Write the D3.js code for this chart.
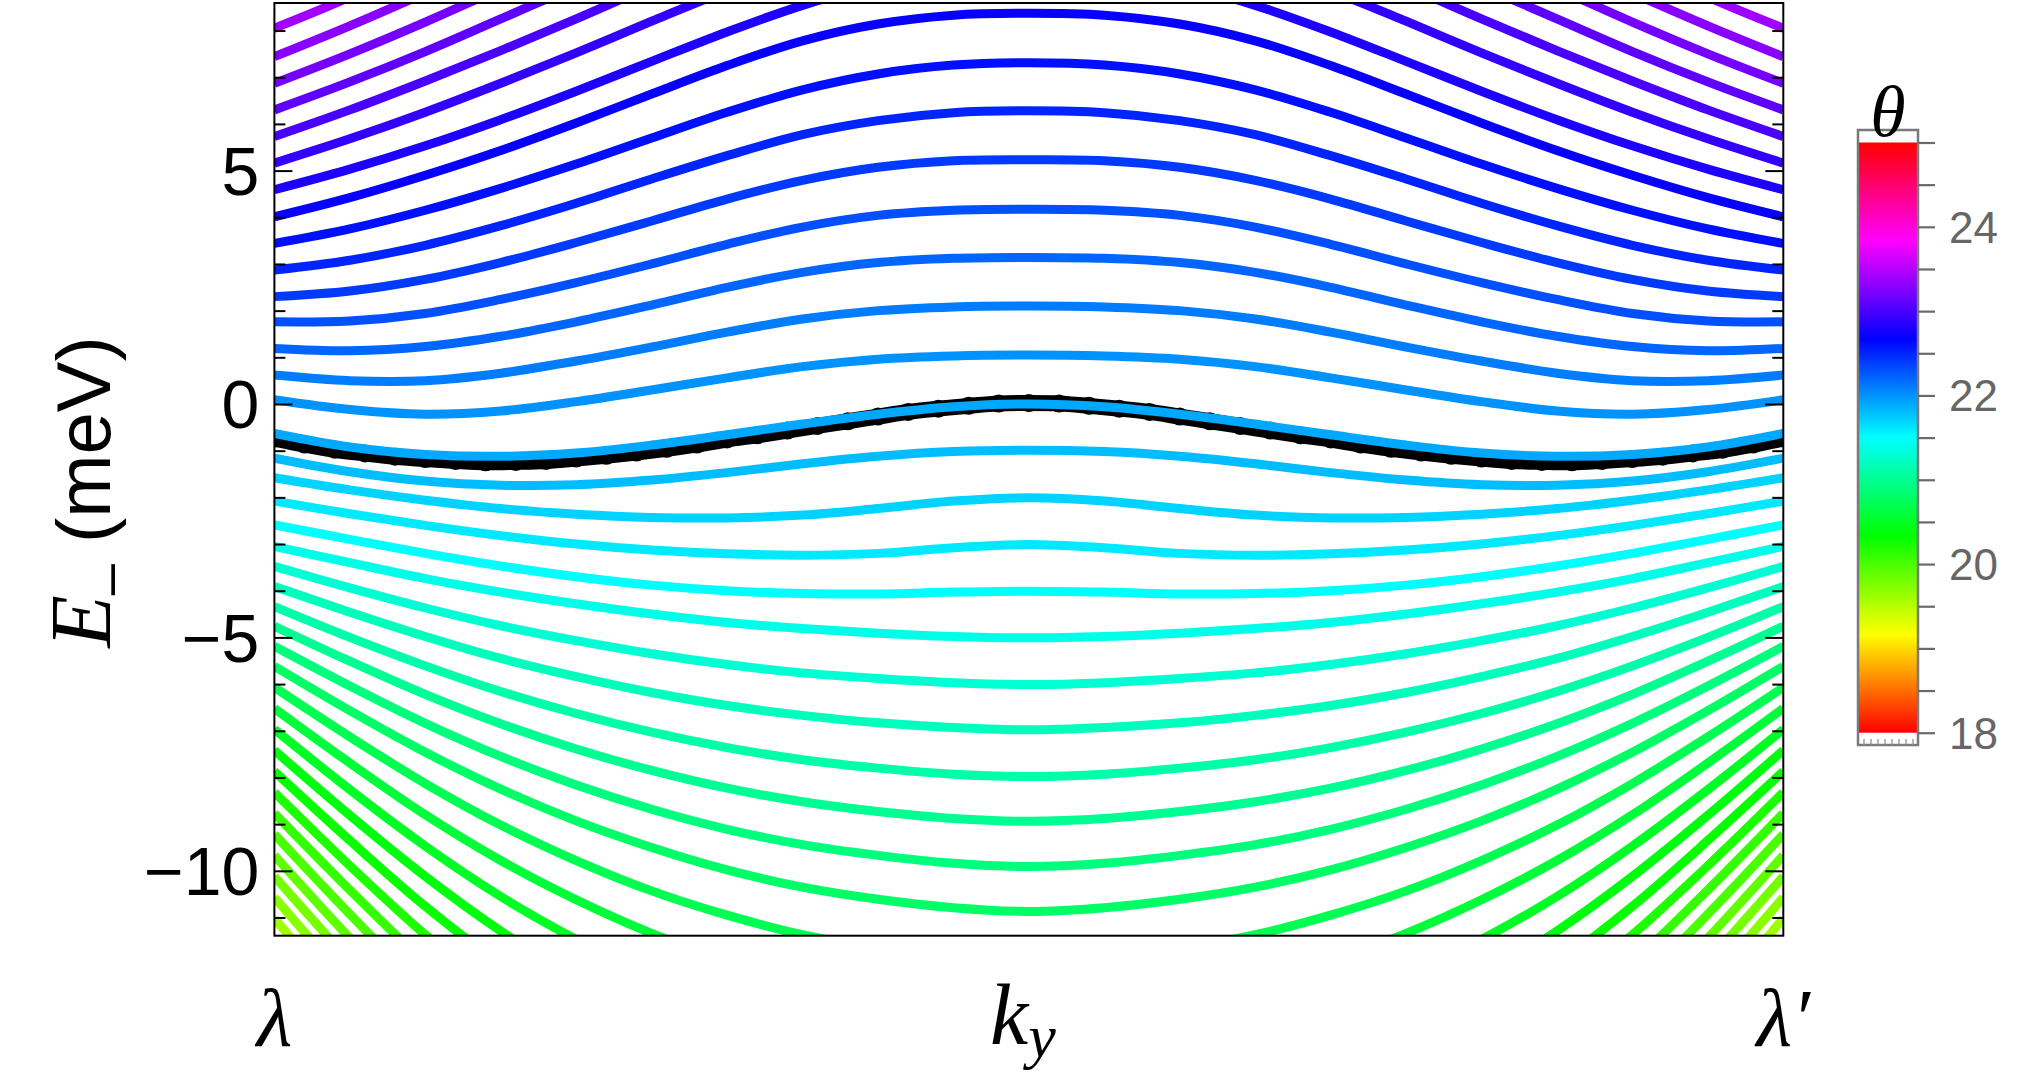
<!DOCTYPE html>
<html><head><meta charset="utf-8">
<script src="https://cdn.jsdelivr.net/npm/d3@7"></script>
<style>html,body{margin:0;padding:0;background:#fff;} svg{display:block;}</style>
</head><body>
<svg id="chart" width="2029" height="1087"></svg>
<script>
// ---------------- data ----------------
const tGrid = [0,0.05,0.1,0.15,0.2,0.25,0.3,0.35,0.4,0.45,0.5,0.55,0.6,0.65,0.7,0.75,0.8,0.85,0.9,0.95,1];

const thetaValues = [23.4,23.3,23.2,23.1,23.0,22.9,22.8,22.7,22.6,22.5,22.4,22.3,22.2,22.1,22.0,21.9,21.8,21.7,21.6,21.5,21.4,21.3,21.2,21.1,21.0,20.9,20.8,20.7,20.6,20.5,20.4,20.3,20.2,20.1,20.0,19.9,19.8,19.7,19.6];

const energyCurves = [
[8.05,8.72,9.5,10.3,11.1,11.9,12.7,13.5,14.3,15.0,15.3,15.0,14.3,13.5,12.7,11.9,11.1,10.3,9.5,8.72,8.05],
[7.44,8.1,8.8,9.5,10.3,11.1,11.9,12.7,13.4,13.9,14.1,13.9,13.4,12.7,11.9,11.1,10.3,9.5,8.8,8.1,7.44],
[6.87,7.5,8.18,8.9,9.6,10.3,11.0,11.6,12.1,12.4,12.5,12.4,12.1,11.6,11.0,10.3,9.6,8.9,8.18,7.5,6.87],
[6.30,6.9,7.55,8.25,8.95,9.65,10.3,10.9,11.4,11.7,11.8,11.7,11.4,10.9,10.3,9.65,8.95,8.25,7.55,6.9,6.30],
[5.73,6.3,6.92,7.57,8.25,8.95,9.6,10.2,10.65,10.95,11.05,10.95,10.65,10.2,9.6,8.95,8.25,7.57,6.92,6.3,5.73],
[5.16,5.68,6.25,6.87,7.52,8.2,8.85,9.4,9.8,10.05,10.12,10.05,9.8,9.4,8.85,8.2,7.52,6.87,6.25,5.68,5.16],
[4.59,5.03,5.53,6.09,6.7,7.34,7.97,8.54,8.98,9.25,9.34,9.25,8.98,8.54,7.97,7.34,6.7,6.09,5.53,5.03,4.59],
[4.01,4.42,4.9,5.43,6.02,6.64,7.25,7.78,8.14,8.33,8.37,8.33,8.14,7.78,7.25,6.64,6.02,5.43,4.9,4.42,4.01],
[3.44,3.75,4.15,4.62,5.14,5.7,6.25,6.73,7.07,7.26,7.31,7.26,7.07,6.73,6.25,5.7,5.14,4.62,4.15,3.75,3.44],
[2.87,3.08,3.4,3.82,4.3,4.82,5.32,5.77,6.07,6.24,6.28,6.24,6.07,5.77,5.32,4.82,4.3,3.82,3.4,3.08,2.87],
[2.30,2.42,2.67,3.03,3.46,3.92,4.39,4.79,5.07,5.21,5.23,5.21,5.07,4.79,4.39,3.92,3.46,3.03,2.67,2.42,2.30],
[1.76,1.78,1.94,2.24,2.6,3.0,3.42,3.79,4.04,4.15,4.17,4.15,4.04,3.79,3.42,3.0,2.6,2.24,1.94,1.78,1.76],
[1.19,1.14,1.23,1.45,1.76,2.12,2.5,2.82,3.03,3.12,3.14,3.12,3.03,2.82,2.5,2.12,1.76,1.45,1.23,1.14,1.19],
[0.62,0.5,0.5,0.66,0.92,1.22,1.54,1.82,2.0,2.08,2.10,2.08,2.0,1.82,1.54,1.22,0.92,0.66,0.5,0.5,0.62],
[0.09,-0.12,-0.22,-0.15,0.05,0.3,0.56,0.8,0.96,1.03,1.05,1.03,0.96,0.8,0.56,0.3,0.05,-0.15,-0.22,-0.12,0.09],
[-0.63,-0.92,-1.08,-1.12,-1.05,-0.88,-0.66,-0.43,-0.22,-0.06,0,-0.06,-0.22,-0.43,-0.66,-0.88,-1.05,-1.12,-1.08,-0.92,-0.63],
[-1.16,-1.45,-1.65,-1.74,-1.73,-1.63,-1.47,-1.28,-1.12,-1.02,-0.99,-1.02,-1.12,-1.28,-1.47,-1.63,-1.73,-1.74,-1.65,-1.45,-1.16],
[-1.58,-1.84,-2.06,-2.24,-2.36,-2.43,-2.44,-2.38,-2.24,-2.08,-2.01,-2.08,-2.24,-2.38,-2.44,-2.43,-2.36,-2.24,-2.06,-1.84,-1.58],
[-2.08,-2.35,-2.6,-2.82,-3.0,-3.13,-3.21,-3.24,-3.2,-3.08,-3.01,-3.08,-3.2,-3.24,-3.21,-3.13,-3.0,-2.82,-2.6,-2.35,-2.08],
[-2.59,-2.9,-3.2,-3.47,-3.7,-3.88,-4.0,-4.06,-4.07,-4.03,-4.01,-4.03,-4.07,-4.06,-4.0,-3.88,-3.7,-3.47,-3.2,-2.9,-2.59],
[-3.05,-3.4,-3.74,-4.03,-4.28,-4.5,-4.68,-4.81,-4.91,-4.98,-5.01,-4.98,-4.91,-4.81,-4.68,-4.5,-4.28,-4.03,-3.74,-3.4,-3.05],
[-3.48,-3.94,-4.37,-4.75,-5.07,-5.35,-5.58,-5.76,-5.88,-5.97,-6.01,-5.97,-5.88,-5.76,-5.58,-5.35,-5.07,-4.75,-4.37,-3.94,-3.48],
[-3.91,-4.46,-4.98,-5.45,-5.84,-6.18,-6.46,-6.67,-6.83,-6.93,-6.98,-6.93,-6.83,-6.67,-6.46,-6.18,-5.84,-5.45,-4.98,-4.46,-3.91],
[-4.34,-5.0,-5.61,-6.16,-6.63,-7.03,-7.36,-7.62,-7.8,-7.93,-7.98,-7.93,-7.8,-7.62,-7.36,-7.03,-6.63,-6.16,-5.61,-5.0,-4.34],
[-4.76,-5.51,-6.22,-6.85,-7.39,-7.85,-8.23,-8.52,-8.73,-8.88,-8.94,-8.88,-8.73,-8.52,-8.23,-7.85,-7.39,-6.85,-6.22,-5.51,-4.76],
[-5.19,-6.04,-6.84,-7.55,-8.16,-8.68,-9.11,-9.44,-9.67,-9.84,-9.91,-9.84,-9.67,-9.44,-9.11,-8.68,-8.16,-7.55,-6.84,-6.04,-5.19],
[-5.62,-6.57,-7.46,-8.25,-8.93,-9.5,-9.98,-10.35,-10.61,-10.79,-10.87,-10.79,-10.61,-10.35,-9.98,-9.5,-8.93,-8.25,-7.46,-6.57,-5.62],
[-6.07,-7.13,-8.13,-9.02,-9.78,-10.43,-10.95,-11.37,-11.66,-11.86,-11.95,-11.86,-11.66,-11.37,-10.95,-10.43,-9.78,-9.02,-8.13,-7.13,-6.07],
[-6.52,-7.69,-8.8,-9.78,-10.62,-11.34,-11.93,-12.39,-12.71,-12.93,-13.03,-12.93,-12.71,-12.39,-11.93,-11.34,-10.62,-9.78,-8.8,-7.69,-6.52],
[-6.97,-8.26,-9.47,-10.55,-11.47,-12.26,-12.9,-13.4,-13.76,-14.0,-14.11,-14.0,-13.76,-13.4,-12.9,-12.26,-11.47,-10.55,-9.47,-8.26,-6.97],
[-7.42,-8.81,-10.12,-11.29,-12.29,-13.14,-13.83,-14.37,-14.76,-15.02,-15.14,-15.02,-14.76,-14.37,-13.83,-13.14,-12.29,-11.29,-10.12,-8.81,-7.42],
[-7.87,-9.35,-10.76,-12.0,-13.07,-13.98,-14.72,-15.3,-15.7,-15.99,-16.11,-15.99,-15.7,-15.3,-14.72,-13.98,-13.07,-12.0,-10.76,-9.35,-7.87],
[-8.32,-9.89,-11.37,-12.69,-13.81,-14.78,-15.56,-16.17,-16.6,-16.9,-17.04,-16.9,-16.6,-16.17,-15.56,-14.78,-13.81,-12.69,-11.37,-9.89,-8.32],
[-8.77,-10.41,-11.97,-13.35,-14.53,-15.54,-16.36,-17.0,-17.45,-17.77,-17.91,-17.77,-17.45,-17.0,-16.36,-15.54,-14.53,-13.35,-11.97,-10.41,-8.77],
[-9.22,-10.93,-12.55,-13.98,-15.21,-16.26,-17.11,-17.78,-18.25,-18.58,-18.72,-18.58,-18.25,-17.78,-17.11,-16.26,-15.21,-13.98,-12.55,-10.93,-9.22],
[-9.67,-11.44,-13.11,-14.59,-15.86,-16.94,-17.82,-18.52,-19.0,-19.34,-19.49,-19.34,-19.0,-18.52,-17.82,-16.94,-15.86,-14.59,-13.11,-11.44,-9.67],
[-10.12,-11.93,-13.65,-15.17,-16.48,-17.59,-18.49,-19.2,-19.7,-20.05,-20.2,-20.05,-19.7,-19.2,-18.49,-17.59,-16.48,-15.17,-13.65,-11.93,-10.12],
[-10.57,-12.42,-14.18,-15.72,-17.06,-18.19,-19.12,-19.84,-20.35,-20.7,-20.86,-20.7,-20.35,-19.84,-19.12,-18.19,-17.06,-15.72,-14.18,-12.42,-10.57],
[-11.02,-12.91,-14.7,-16.28,-17.64,-18.8,-19.74,-20.48,-21.0,-21.36,-21.52,-21.36,-21.0,-20.48,-19.74,-18.8,-17.64,-16.28,-14.7,-12.91,-11.02]
];

// black data points riding on the theta = 21.9 curve
const dotT = [0,0.02,0.04,0.06,0.08,0.1,0.12,0.14,0.16,0.18,0.2,0.22,0.24,0.26,0.28,0.3,0.32,0.34,0.36,0.38,0.4,0.42,0.44,0.46,0.48,0.5,0.52,0.54,0.56,0.58,0.6,0.62,0.64,0.66,0.68,0.7,0.72,0.74,0.76,0.78,0.8,0.82,0.84,0.86,0.88,0.9,0.92,0.94,0.96,0.98,1];
const dotE = [-0.74,-0.87,-0.98,-1.06,-1.13,-1.18,-1.22,-1.25,-1.24,-1.22,-1.17,-1.11,-1.04,-0.96,-0.87,-0.76,-0.67,-0.57,-0.47,-0.37,-0.27,-0.17,-0.1,-0.04,0.01,0.02,0.01,-0.04,-0.1,-0.17,-0.27,-0.37,-0.47,-0.57,-0.67,-0.76,-0.87,-0.96,-1.04,-1.11,-1.17,-1.22,-1.24,-1.25,-1.22,-1.18,-1.13,-1.06,-0.98,-0.87,-0.74];

const yMajorTicks = [-10,-5,0,5];
const yMinorTicks = [-11,-9,-8,-7,-6,-4,-3,-2,-1,1,2,3,4,6,7,8];
const xLabelPos = [0,0.5,1];
const barTicks = [18,18.5,19,19.5,20,20.5,21,21.5,22,22.5,23,23.5,24,24.5,25];
const barLabels = [18,20,22,24];
const thetaRange = [18,25];

// ---------------- layout ----------------
const svg = d3.select("#chart");
const P = {left:274.4, right:1783.3, top:3, bottom:935.7};
const x = d3.scaleLinear().domain([0,1]).range([P.left,P.right]);
const y = d3.scaleLinear().domain([-11.39,8.59]).range([P.bottom,P.top]);
const hueOf = th => d3.hsl((th-thetaRange[0])/(thetaRange[1]-thetaRange[0])*360,1,0.5).toString();
const SANS = "'Liberation Sans', Arial, Helvetica, sans-serif";
const SERIF = "'Liberation Serif', 'Times New Roman', serif";

svg.append("rect").attr("width",2029).attr("height",1087).attr("fill","#fff");

const defs = svg.append("defs");
defs.append("clipPath").attr("id","plotClip").append("rect")
  .attr("x",P.left).attr("y",P.top).attr("width",P.right-P.left).attr("height",P.bottom-P.top);

const plot = svg.append("g").attr("clip-path","url(#plotClip)");

// data points (black)
const dotLine = d3.line().x((d,i)=>x(dotT[i])).y(d=>y(d)).curve(d3.curveCatmullRom);
plot.append("path").datum(dotE).attr("d",dotLine).attr("fill","none")
  .attr("stroke","#000").attr("stroke-width",16);
plot.selectAll("circle.dot").data(dotE).enter().append("circle")
  .attr("cx",(d,i)=>x(dotT[i])).attr("cy",d=>y(d)).attr("r",9).attr("fill","#000");

// curves
const line = d3.line().x((d,i)=>x(tGrid[i])).y(d=>y(d)).curve(d3.curveCatmullRom.alpha(0.5));
plot.selectAll("path.curve").data(energyCurves).enter().append("path")
  .attr("class","curve").attr("d",line).attr("fill","none")
  .attr("stroke",(d,i)=>hueOf(thetaValues[i])).attr("stroke-width",9)
  .attr("stroke-linejoin","round");

// axes
const fmt = d => d<0 ? "\u2212"+Math.abs(d) : String(d);
const gl = svg.append("g").attr("transform",`translate(${P.left},0)`);
gl.call(d3.axisLeft(y).tickValues(yMajorTicks).tickSize(-18).tickPadding(15).tickFormat(fmt));
gl.call(g=>g.select(".domain").remove());
gl.selectAll("text").attr("font-family",SANS).attr("font-size",68).attr("fill","#000").attr("dy","0.35em");
gl.selectAll("line").attr("stroke","#000").attr("stroke-width",2);
const glm = svg.append("g").attr("transform",`translate(${P.left},0)`);
glm.call(d3.axisLeft(y).tickValues(yMinorTicks).tickSize(-11).tickFormat(""));
glm.call(g=>g.select(".domain").remove());
glm.selectAll("line").attr("stroke","#000").attr("stroke-width",2);

const gr = svg.append("g").attr("transform",`translate(${P.right},0)`);
gr.call(d3.axisRight(y).tickValues(yMajorTicks).tickSize(-18).tickFormat(""));
gr.call(g=>g.select(".domain").remove());
gr.selectAll("line").attr("stroke","#000").attr("stroke-width",2);
const grm = svg.append("g").attr("transform",`translate(${P.right},0)`);
grm.call(d3.axisRight(y).tickValues(yMinorTicks).tickSize(-11).tickFormat(""));
grm.call(g=>g.select(".domain").remove());
grm.selectAll("line").attr("stroke","#000").attr("stroke-width",2);

// frame
svg.append("rect").attr("x",P.left).attr("y",P.top).attr("width",P.right-P.left).attr("height",P.bottom-P.top)
  .attr("fill","none").attr("stroke","#000").attr("stroke-width",2);

// x labels
const xl = svg.append("g").attr("font-family",SERIF).attr("font-style","italic").attr("font-size",82).attr("fill","#000");
xl.append("text").attr("x",x(xLabelPos[0])).attr("y",1046).attr("text-anchor","middle").text("λ");
const ky = xl.append("text").attr("x",x(xLabelPos[1])-6).attr("y",1044).attr("text-anchor","middle").attr("font-size",86);
ky.append("tspan").text("k");
ky.append("tspan").attr("font-size",62).attr("dy",13).text("y");
xl.append("text").attr("x",x(xLabelPos[2])).attr("y",1046).attr("text-anchor","middle").text("λ\u2032");

// y label
const yl = svg.append("text").attr("transform","translate(110,492) rotate(-90)")
  .attr("text-anchor","middle").attr("font-size",76).attr("fill","#000");
yl.append("tspan").attr("font-family",SERIF).attr("font-style","italic").attr("font-size",86).text("E");
yl.append("tspan").attr("font-family",SANS).attr("font-size",56).attr("dy",17).text("\u2013");
yl.append("tspan").attr("font-family",SANS).attr("dy",-17).text("\u00a0(meV)");

// colorbar
const B = {x:1858, w:60, top:142.5, bottom:732.7};
const cb = d3.scaleLinear().domain(thetaRange).range([B.bottom,B.top]);
const grad = defs.append("linearGradient").attr("id","hueGrad").attr("x1",0).attr("y1",1).attr("x2",0).attr("y2",0);
d3.range(0,13).forEach(i=>{
  grad.append("stop").attr("offset",i/12).attr("stop-color",d3.hsl(i*30,1,0.5).toString());
});
svg.append("rect").attr("x",B.x).attr("y",130).attr("width",B.w).attr("height",615).attr("fill","#fff");
svg.append("rect").attr("x",B.x).attr("y",B.top).attr("width",B.w).attr("height",B.bottom-B.top).attr("fill","url(#hueGrad)");
svg.append("rect").attr("x",B.x).attr("y",130).attr("width",B.w).attr("height",615)
  .attr("fill","none").attr("stroke","#7a7a7a").attr("stroke-width",2.5);
const rul = svg.append("g");
d3.range(B.x+6,B.x+B.w-2,7).forEach(px=>{
  rul.append("line").attr("x1",px).attr("x2",px).attr("y1",739).attr("y2",745).attr("stroke","#8a8a8a").attr("stroke-width",1.2);
});
const gb = svg.append("g").attr("transform",`translate(${B.x+B.w},0)`);
gb.call(d3.axisRight(cb).tickValues(barTicks).tickSize(17).tickPadding(14)
  .tickFormat(d => barLabels.includes(d) ? String(d) : ""));
gb.call(g=>g.select(".domain").remove());
gb.selectAll("line").attr("stroke","#6a6a6a").attr("stroke-width",2.2);
gb.selectAll("text").attr("font-family",SANS).attr("font-size",44).attr("fill","#666").attr("dy","0.35em");

svg.append("text").attr("x",B.x+B.w/2).attr("y",136).attr("text-anchor","middle")
  .attr("font-family",SERIF).attr("font-style","italic").attr("font-size",72).attr("fill","#000").text("θ");
</script>
</body></html>
